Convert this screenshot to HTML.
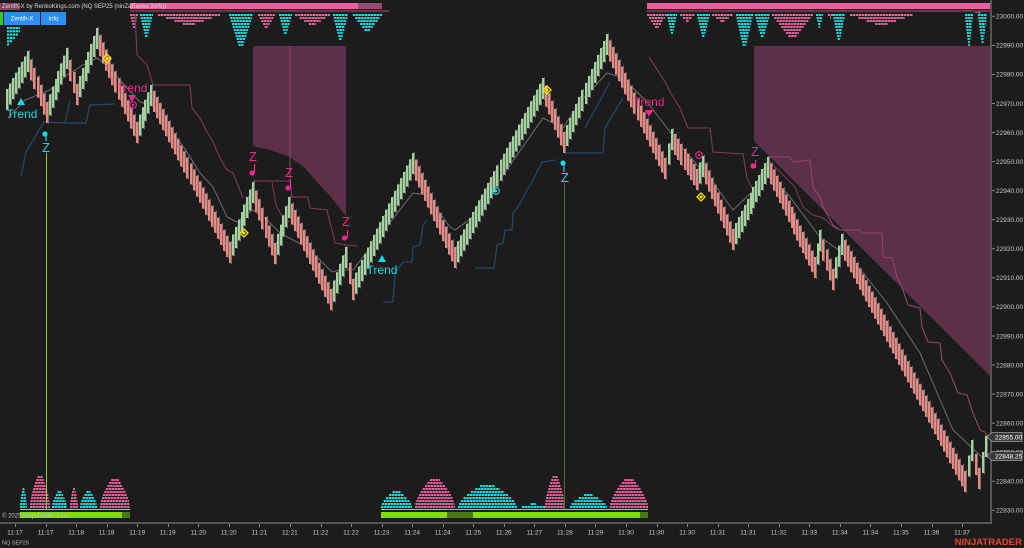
<!DOCTYPE html>
<html><head><meta charset="utf-8">
<style>
html,body{margin:0;padding:0;background:#1c1c1c;width:1024px;height:548px;overflow:hidden}
svg{display:block}
text{font-family:"Liberation Sans",sans-serif}
</style></head><body>
<svg id="c" width="1024" height="548" viewBox="0 0 1024 548" xmlns="http://www.w3.org/2000/svg">
<rect width="1024" height="548" fill="#1c1c1c"/>
<!-- shaded regions -->
<polygon points="253,46 346,46 346,216 330,196 317,182 305,168 290,157 270,150 253,146" fill="#5d3049"/>
<polygon points="754,46 991,46 991,377 754,141" fill="#5d3049"/>
<g id="hist"></g>
<g id="lines" fill="none"></g>
<!-- vertical lines -->
<line x1="46.5" y1="153" x2="46.5" y2="510" stroke="#9acd32" stroke-width="1"/>
<line x1="564.5" y1="183" x2="564.5" y2="510" stroke="#4f6d2a" stroke-width="1"/>
<g id="bars"></g>
<!-- top bars -->
<rect x="0" y="3" width="20" height="7" fill="#b0507a" opacity="0.7"/>
<rect x="130" y="3" width="228" height="6" fill="#e8609f"/>
<rect x="358" y="3" width="24" height="6" fill="#9a4a70"/>
<rect x="130" y="10.5" width="259" height="1" fill="#b8507f"/>
<rect x="647" y="3" width="343" height="6" fill="#e8609f"/>
<rect x="647" y="10.5" width="343" height="1" fill="#b8507f"/>
<text x="973" y="14" font-size="9" fill="#dddddd">→</text>
<text x="2" y="8" font-size="6" fill="#d8d8d8">Zenith-X by RenkoKings.com (NQ SEP25 (ninZaRenko 30/5))</text>
<rect x="0" y="12" width="3" height="13" fill="#32c832"/>
<rect x="4" y="12" width="36" height="13" fill="#2a8ff0"/>
<rect x="41" y="12" width="25" height="13" fill="#2a8ff0"/>
<text x="22" y="20.5" font-size="6" fill="#ffffff" text-anchor="middle">Zenith-X</text>
<text x="53.5" y="20.5" font-size="6" fill="#ffffff" text-anchor="middle">Info</text>
<!-- bottom green bars -->
<rect x="20" y="509" width="110" height="1" fill="#8be020"/>
<rect x="20" y="512" width="102" height="6" fill="#7fdc10"/>
<rect x="122" y="512" width="8" height="6" fill="#4a7a18"/>
<rect x="381" y="509" width="267" height="1" fill="#8be020"/>
<rect x="381" y="512" width="66" height="6" fill="#7fdc10"/>
<rect x="447" y="512" width="26" height="6" fill="#4a7a18"/>
<rect x="473" y="512" width="167" height="6" fill="#7fdc10"/>
<rect x="640" y="512" width="8" height="6" fill="#4a7a18"/>
<text x="2" y="517.5" font-size="6" fill="#c0c0c0">© 2025 NinjaTrader, LLC</text>
<!-- markers -->
<g>
<polygon points="17,105 25,105 21,98" fill="#19d9e6"/>
<text x="22" y="118" font-size="12" fill="#19d9e6" text-anchor="middle">Trend</text>
<line x1="46" y1="134" x2="46" y2="141" stroke="#19d9e6" stroke-width="1.2"/>
<circle cx="45" cy="134" r="2.6" fill="#19d9e6"/>
<text x="46" y="152" font-size="13" fill="#19d9e6" text-anchor="middle">Z</text>

<polygon points="107,54 111,58.5 107,63 103,58.5" fill="none" stroke="#ffe600" stroke-width="1.3"/>
<circle cx="107" cy="58.5" r="1.5" fill="#ffe600"/>

<text x="132" y="92" font-size="12" fill="#f0288c" text-anchor="middle">Trend</text>
<polygon points="128,95 136,95 132,102" fill="#f0288c"/>
<circle cx="133" cy="105" r="3.3" fill="none" stroke="#f0288c" stroke-width="1.1"/>
<circle cx="133" cy="105" r="1.2" fill="#f0288c"/>

<text x="253" y="161" font-size="13" fill="#f0288c" text-anchor="middle">Z</text>
<line x1="254.5" y1="164" x2="254.5" y2="173" stroke="#f0288c" stroke-width="1.2"/>
<circle cx="252" cy="173" r="2.6" fill="#f0288c"/>

<polygon points="244,229 248,233 244,237 240,233" fill="none" stroke="#ffe600" stroke-width="1.3"/>
<circle cx="244" cy="233" r="1.5" fill="#ffe600"/>

<text x="289" y="177" font-size="13" fill="#f0288c" text-anchor="middle">Z</text>
<line x1="290.5" y1="180" x2="290.5" y2="188" stroke="#f0288c" stroke-width="1.2"/>
<circle cx="288" cy="188" r="2.6" fill="#f0288c"/>

<text x="346" y="226" font-size="13" fill="#f0288c" text-anchor="middle">Z</text>
<line x1="347.5" y1="230" x2="347.5" y2="238" stroke="#f0288c" stroke-width="1.2"/>
<circle cx="344.5" cy="238" r="2.6" fill="#f0288c"/>

<polygon points="378,262 386,262 382,255" fill="#19d9e6"/>
<text x="382" y="274" font-size="12" fill="#19d9e6" text-anchor="middle">Trend</text>

<circle cx="496" cy="191" r="3.3" fill="none" stroke="#19d9e6" stroke-width="1.1"/>
<circle cx="496" cy="191" r="1.2" fill="#19d9e6"/>

<polygon points="547,86 551,90 547,94 543,90" fill="none" stroke="#ffe600" stroke-width="1.3"/>
<circle cx="547" cy="90" r="1.5" fill="#ffe600"/>

<line x1="564" y1="163" x2="564" y2="172" stroke="#19d9e6" stroke-width="1.2"/>
<circle cx="563" cy="163" r="2.6" fill="#19d9e6"/>
<text x="565" y="182" font-size="13" fill="#19d9e6" text-anchor="middle">Z</text>

<text x="649" y="106" font-size="12" fill="#f0288c" text-anchor="middle">Trend</text>
<polygon points="645,110 653,110 649,117" fill="#f0288c"/>

<circle cx="699" cy="155" r="3.3" fill="none" stroke="#f0288c" stroke-width="1.1"/>
<circle cx="699" cy="155" r="1.2" fill="#f0288c"/>

<polygon points="701,193 705,197 701,201 697,197" fill="none" stroke="#ffe600" stroke-width="1.3"/>
<circle cx="701" cy="197" r="1.5" fill="#ffe600"/>

<text x="755" y="156" font-size="13" fill="#f0288c" text-anchor="middle">Z</text>
<line x1="755.5" y1="160" x2="755.5" y2="168" stroke="#f0288c" stroke-width="1.2"/>
<circle cx="753" cy="166" r="2.6" fill="#f0288c"/>
</g>
<!-- axes -->
<rect x="990" y="0" width="2" height="524" fill="#555555"/>
<rect x="0" y="522" width="992" height="2" fill="#555555"/>
<g font-size="6.5" fill="#c8c8c8">
<g stroke="#888" stroke-width="1">
<line x1="992" y1="16.3" x2="995" y2="16.3"/><line x1="992" y1="45.4" x2="995" y2="45.4"/><line x1="992" y1="74.4" x2="995" y2="74.4"/><line x1="992" y1="103.5" x2="995" y2="103.5"/><line x1="992" y1="132.5" x2="995" y2="132.5"/><line x1="992" y1="161.6" x2="995" y2="161.6"/><line x1="992" y1="190.7" x2="995" y2="190.7"/><line x1="992" y1="219.7" x2="995" y2="219.7"/><line x1="992" y1="248.8" x2="995" y2="248.8"/><line x1="992" y1="277.8" x2="995" y2="277.8"/><line x1="992" y1="306.9" x2="995" y2="306.9"/><line x1="992" y1="336" x2="995" y2="336"/><line x1="992" y1="365" x2="995" y2="365"/><line x1="992" y1="394.1" x2="995" y2="394.1"/><line x1="992" y1="423.1" x2="995" y2="423.1"/><line x1="992" y1="452.2" x2="995" y2="452.2"/><line x1="992" y1="481.3" x2="995" y2="481.3"/><line x1="992" y1="510.3" x2="995" y2="510.3"/>
</g>
<text x="996" y="18.6">23000.00</text>
<text x="996" y="47.7">22990.00</text>
<text x="996" y="76.7">22980.00</text>
<text x="996" y="105.8">22970.00</text>
<text x="996" y="134.8">22960.00</text>
<text x="996" y="163.9">22950.00</text>
<text x="996" y="193">22940.00</text>
<text x="996" y="222">22930.00</text>
<text x="996" y="251.1">22920.00</text>
<text x="996" y="280.1">22910.00</text>
<text x="996" y="309.2">22900.00</text>
<text x="996" y="338.3">22890.00</text>
<text x="996" y="367.3">22880.00</text>
<text x="996" y="396.4">22870.00</text>
<text x="996" y="425.4">22860.00</text>
<text x="996" y="454.5">22850.00</text>
<text x="996" y="483.6">22840.00</text>
<text x="996" y="512.6">22830.00</text>
</g>
<polygon points="987,437 992,432.5 1022,432.5 1022,441.5 992,441.5" fill="#3a3a3a" stroke="#a0a0a0" stroke-width="0.8"/>
<text x="995" y="439.5" font-size="6.5" fill="#ffffff">22855.00</text>
<polygon points="987,456 992,451.5 1022,451.5 1022,460.5 992,460.5" fill="#3a3a3a" stroke="#a0a0a0" stroke-width="0.8"/>
<text x="995" y="458.5" font-size="6.5" fill="#ffffff">22848.25</text>
<g id="tticks" stroke="#888" stroke-width="1"></g>
<g font-size="6.5" fill="#c8c8c8" text-anchor="middle">
<text x="15" y="534.5">11:17</text><text x="45.5" y="534.5">11:17</text><text x="76.1" y="534.5">11:18</text><text x="106.6" y="534.5">11:18</text><text x="137.2" y="534.5">11:19</text><text x="167.7" y="534.5">11:19</text><text x="198.3" y="534.5">11:20</text><text x="228.8" y="534.5">11:20</text><text x="259.4" y="534.5">11:21</text><text x="289.9" y="534.5">11:21</text><text x="320.5" y="534.5">11:22</text><text x="351" y="534.5">11:22</text><text x="381.6" y="534.5">11:23</text><text x="412.1" y="534.5">11:24</text><text x="442.7" y="534.5">11:24</text><text x="473.2" y="534.5">11:25</text><text x="503.8" y="534.5">11:26</text><text x="534.3" y="534.5">11:27</text><text x="564.9" y="534.5">11:28</text><text x="595.4" y="534.5">11:29</text><text x="626" y="534.5">11:30</text><text x="656.5" y="534.5">11:30</text><text x="687.1" y="534.5">11:30</text><text x="717.6" y="534.5">11:31</text><text x="748.2" y="534.5">11:31</text><text x="778.7" y="534.5">11:32</text><text x="809.3" y="534.5">11:33</text><text x="839.8" y="534.5">11:34</text><text x="870.4" y="534.5">11:34</text><text x="900.9" y="534.5">11:35</text><text x="931.5" y="534.5">11:36</text><text x="962" y="534.5">11:37</text>
</g>
<text x="2" y="544.5" font-size="5.5" fill="#bbbbbb">NQ SEP25</text>
<text x="1022" y="545" font-size="9.5" font-weight="bold" fill="#e8452c" text-anchor="end">NINJATRADER</text>
</svg>
<script>
(function(){
const NS='http://www.w3.org/2000/svg';
function el(p,t,a){const e=document.createElementNS(NS,t);for(const k in a)e.setAttribute(k,a[k]);p.appendChild(e);return e;}
// time ticks
const tt=document.getElementById('tticks');
for(let i=0;i<32;i++){const x=Math.round(15+i*30.55)+0.5;el(tt,'line',{x1:x,y1:524,x2:x,y2:527});}
// bars
const bars=document.getElementById('bars');
const P=[[7,110],[28,51],[47,123],[67,48],[77,105],[97,28],[137,143],[151,85],[230,263],[253,182],[275,264],[289,197],[331,310],[346,247],[353,300],[413,153],[455,268],[543,78],[564,153],[607,34],[665,179],[672,129],[697,190],[703,156],[733,250],[768,157],[815,278],[820,230],[833,290],[842,234],[965,492],[972,440],[979,489],[986,436]];
const H=21;
for(let i=0;i<P.length-1;i++){
  const x0=P[i][0],y0=P[i][1],x1=P[i+1][0],y1=P[i+1][1];
  const up=y1<y0;
  const n=Math.max(1,Math.round((x1-x0)/3));
  for(let k=(i==0?0:1);k<=n;k++){
    const t=k/n,x=Math.round(x0+(x1-x0)*t);
    let top;
    if(up){top=(y0-H)+(y1-(y0-H))*t;}else{const b=(y0+H)+(y1-(y0+H))*t;top=b-H;}
    el(bars,'rect',{x:x-1,y:top.toFixed(1),width:2,height:H,fill:up?'#9fd59b':'#f0867f'});
    el(bars,'rect',{x:x+1,y:(top-1).toFixed(1),width:1,height:H+2,fill:'#6e6e6e'});
  }
}
// lines
const L=document.getElementById('lines');
function pl(pts,col,w,op){el(L,'polyline',{points:pts.map(p=>p.join(',')).join(' '),stroke:col,'stroke-width':w||1,opacity:op||1,fill:'none'});}
const gray=[[8,118],[25,100],[50,90],[67,75],[83,65],[97,58],[110,68],[127,88],[140,102],[150,105],[157,108],[173,132],[187,152],[200,173],[213,187],[227,217],[237,222],[250,212],[253,210],[267,220],[280,233],[293,240],[307,247],[323,263],[332,272],[340,270],[353,270],[413,193],[427,195],[450,227],[455,230],[473,217],[480,208],[543,118],[563,128],[580,102],[607,73],[623,78],[647,102],[667,128],[680,145],[697,165],[713,182],[727,202],[733,210],[768,177],[787,193],[820,237],[853,260],[887,303],[920,353],[953,430],[983,458]];
pl(gray,'#8a8a8a',1,0.75);
const blue='#244a6c';
pl([[21,176],[26,152],[44,122],[65,123],[70,100]],blue,1.2);
pl([[65,123],[86,123],[90,105],[115,104]],blue,1.2);
pl([[383,302],[393,302],[395,273],[403,262],[412,262],[413,247],[420,245],[423,225],[427,220]],blue,1.2);
pl([[475,268],[494,268],[497,245],[503,243],[505,230],[512,230],[513,213],[518,207],[527,190],[533,180],[542,162],[556,160]],blue,1.2);
pl([[565,153],[603,153],[605,128],[623,98]],blue,1.2);
pl([[585,128],[610,82]],blue,1.2);
const mr='#7d3c5e';
pl([[135,14],[137,55],[147,65],[153,85],[190,85],[192,108],[200,118],[207,132],[213,142],[220,158],[227,170],[233,173],[237,183],[243,198]],mr,1.1);
pl([[253,181],[290,181],[292,197],[308,197],[310,208],[327,210],[330,223],[333,233],[335,243],[347,245],[357,246]],mr,1.1);
pl([[272,182],[276,205],[283,218],[290,222]],mr,1);
pl([[290,46],[290,181]],'#8a4468',1);
pl([[649,57],[667,85],[670,92],[680,108],[688,128],[710,128],[713,152],[743,154],[747,178],[752,188]],mr,1.1);
pl([[768,157],[790,157],[793,162],[810,160],[813,187],[820,197],[823,207],[833,225],[840,230],[860,230],[862,233],[882,233],[883,257],[892,258],[897,277],[902,287],[908,305],[920,308],[922,327],[928,342],[940,343],[942,360],[950,373],[958,393],[967,395],[973,413],[980,430],[985,432],[987,437]],'#93466e',1.1);
pl([[768,160],[795,187],[803,207],[813,215],[823,218],[835,228],[840,230]],mr,1);
// histograms
const HG=document.getElementById('hist');
const PK=['#e8649e','#8a3d62'],CY=['#19e0e0','#147a80'];
function row(x,y,w,c){
  if(w<1)w=1;
  el(HG,'rect',{x:x.toFixed(1),y:y,width:w.toFixed(1),height:2,fill:c[1]});
  el(HG,'line',{x1:x.toFixed(1),y1:y+1,x2:(x+w).toFixed(1),y2:y+1,stroke:c[0],'stroke-width':2,'stroke-dasharray':'2 1'});
}
function topG(x0,x1,n,c,y0){
  y0=y0||14;const full=x1-x0,cx=(x0+x1)/2;
  for(let k=0;k<n;k++){const f=n>1?k/(n-1):0;const w=full*(1-0.8*f);row(cx-w/2,y0+3*k,w,c);}
}
[[130,138,5,PK],[140,153,8,CY],[158,220,4,PK],[229,253,11,CY],[258,275,5,PK],[279,292,7,CY],[295,330,4,PK],[333,348,9,CY],[353,382,6,CY],
 [647,667,5,PK],[667,677,7,CY],[680,695,3,PK],[697,710,8,CY],[712,733,3,PK],[736,753,11,CY],[755,770,8,CY],[772,813,8,PK],[816,823,5,CY],[828,833,2,PK],[833,845,9,CY],[850,913,4,PK],[965,973,11,CY],[978,987,10,CY]
].forEach(g=>topG(g[0],g[1],g[2],g[3]));
// left small cyan stack
[[7,20],[7,20],[7,18],[7,15],[7,12],[7,9]].forEach((r,k)=>row(r[0],27+3.3*k,r[1]-r[0],CY));
function botG(x0,x1,topY,c){
  const n=Math.max(1,Math.round((509-topY)/3));const full=x1-x0,cx=(x0+x1)/2;
  for(let j=0;j<n;j++){const f=n>1?j/(n-1):0;const w=full*(1-0.75*Math.pow(f,1.6));row(cx-w/2,506-3*j,w,c);}
}
[[20,27,487,CY],[30,50,477,PK],[52,67,490,CY],[70,78,489,PK],[80,97,492,CY],[100,130,479,PK],
 [381,412,492,CY],[415,455,479,PK],[458,517,485,CY],[522,545,504,CY],[545,565,477,PK],[570,607,495,CY],[610,648,479,PK]
].forEach(g=>botG(g[0],g[1],g[2],g[3]));
})();
</script>
</body></html>
